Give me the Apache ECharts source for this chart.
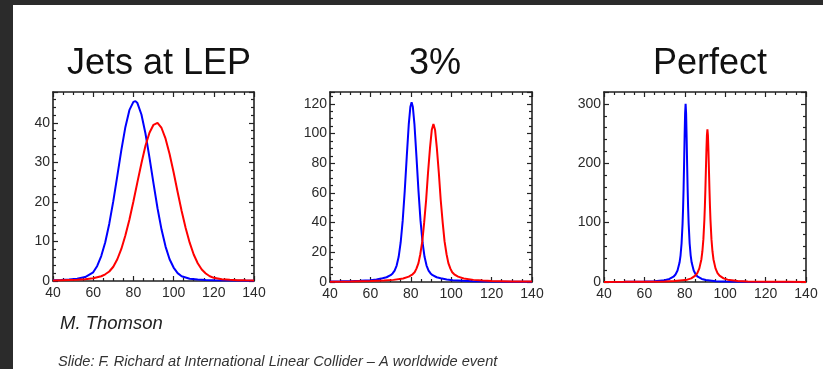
<!DOCTYPE html>
<html><head><meta charset="utf-8">
<script src="https://cdn.jsdelivr.net/npm/echarts@6/dist/echarts.min.js"></script>
<style>html,body{margin:0;padding:0;background:#fff}#c{width:823px;height:369px}</style>
</head><body><div id="c"></div>
<script>
// ---- data ----
const panelTitles = ['Jets at LEP', '3%', 'Perfect'];
const author = 'M. Thomson';
const slideCredit = 'Slide: F. Richard at International Linear Collider \u2013 A worldwide event';

const xMin = 40, xMax = 140, xInterval = 20;
const yMaxes = [47.8, 128, 320];
const yIntervals = [10, 20, 100];

// Panel 1: Jets at LEP
const p1BlueX = [40,44,48,52,56,60,62,64,66,68,70,72,74,76,78,80,81,82,84,86,88,90,92,94,96,98,100,102,104,108,112,116,120,130,140];
const p1BlueY = [0.2,0.25,0.35,0.55,1.0,2.2,3.8,6.3,9.8,14.5,20.2,26.6,33.1,38.9,43.2,45.3,45.5,45.0,42.1,37.3,31.2,24.7,18.4,13.0,8.7,5.5,3.4,2.0,1.2,0.55,0.35,0.25,0.2,0.12,0.08];
const p1RedX = [40,44,48,52,56,60,64,66,68,70,72,74,76,78,80,82,84,86,88,90,92,94,96,98,100,102,104,106,108,110,112,114,116,118,120,124,128,132,136,140];
const p1RedY = [0.15,0.2,0.25,0.3,0.45,0.7,1.2,1.7,2.4,3.6,5.5,8.1,11.5,15.5,20.1,25.0,29.8,34.2,37.5,39.5,40.0,38.7,36.0,32.1,27.5,22.5,17.7,13.4,9.7,6.7,4.5,2.9,1.9,1.2,0.8,0.45,0.3,0.22,0.18,0.15];

// Panel 2: 3%
const p2BlueX = [40,45,50,55,60,63,66,68,70,71,72,73,74,75,76,77,78,79,79.8,80.4,81,81.8,82.8,83.8,84.8,85.8,86.8,87.8,88.8,89.8,90.8,92.8,94.8,97.8,100.8,105.8,110.8,120,130,140];
const p2BlueY = [0.33,0.43,0.57,0.82,1.25,1.7,2.5,3.2,4.6,5.8,7.7,11.1,17.0,26.8,41.5,61.4,84.5,106.4,118.1,121,118.1,106.4,84.5,61.4,41.5,26.8,17.0,11.1,7.7,5.8,4.6,3.2,2.5,1.7,1.25,0.82,0.57,0.34,0.22,0.15];
const p2RedX = [40,50,60,66.7,71.4,76.2,79.0,80.9,81.9,82.8,83.8,84.7,85.7,86.6,87.6,88.5,89.5,90.4,91.2,92.0,92.9,93.9,94.8,95.8,96.7,97.7,98.6,99.6,100.5,101.5,103.4,106.2,111.0,115.7,120,130,140];
const p2RedY = [0.24,0.38,0.65,0.94,1.43,2.4,3.6,5.2,6.6,9.0,12.7,18.7,27.5,39.8,55.4,73.1,90.2,102.6,106.5,102.6,90.2,73.1,55.4,39.8,27.5,18.7,12.7,9.0,6.6,5.2,3.6,2.4,1.43,0.94,0.7,0.42,0.27];

// Panel 3: Perfect
const p3BlueX = [40,50,60,65,70,72.4,74.4,75.4,76.4,77.4,77.9,78.4,78.9,79.15,79.4,79.65,79.9,80.15,80.4,80.65,80.9,81.15,81.4,81.65,81.9,82.4,82.9,83.4,84.4,85.4,86.4,88.4,90.4,95.4,100.4,110.4,120,140];
const p3BlueY = [0.2,0.36,0.79,1.39,3.03,5.08,8.9,12.7,19.3,32.7,45.0,64.8,98.7,124.1,157.3,198.7,244.6,283.9,300,283.9,244.6,198.7,157.3,124.1,98.7,64.8,45.0,32.7,19.3,12.7,8.9,5.08,3.27,1.46,0.82,0.37,0.21,0.093];
const p3RedX = [40,50,60,70,75,81.2,83.2,85.2,86.2,87.2,88.2,88.7,89.2,89.7,89.95,90.2,90.45,90.7,90.95,91.2,91.45,91.7,91.95,92.2,92.45,92.7,93.2,93.7,94.2,95.2,96.2,97.2,99.2,101.2,106.2,111.2,121.2,131.2,140];
const p3RedY = [0.153,0.24,0.41,0.89,1.52,3.95,6.1,10.7,15.1,22.9,38.0,51.4,72.2,105.3,128.5,156.7,189.0,221.6,247.1,257,247.1,221.6,189.0,156.7,128.5,105.3,72.2,51.4,38.0,22.9,15.1,10.7,6.1,3.95,1.77,1.0,0.445,0.25,0.169];

// ---- build chart ----
const blueSeries = [[p1BlueX, p1BlueY], [p2BlueX, p2BlueY], [p3BlueX, p3BlueY]];
const redSeries = [[p1RedX, p1RedY], [p2RedX, p2RedY], [p3RedX, p3RedY]];
const yMinorSplits = [5, 4, 5];
const gridRects = [
  {left: 53, top: 92, width: 201, height: 189},
  {left: 330, top: 92, width: 202, height: 190},
  {left: 604, top: 92, width: 202, height: 190}
];
const titleCenters = [159, 435, 710];
const frameColor = '#222222';
const labelFont = 'Liberation Sans';

function pairs(xs, ys) { return xs.map((x, i) => [x, ys[i]]); }

const xAxes = [], yAxes = [], series = [], graphics = [];
graphics.push({type: 'rect', z: -10, silent: true, shape: {x: 13, y: 5, width: 820, height: 370}, style: {fill: '#ffffff'}});

for (let i = 0; i < 3; i++) {
  const lineStyle = {color: frameColor, width: 1.6};
  const tickStyle = {color: frameColor, width: 1.2};
  ['bottom', 'top'].forEach(pos => {
    xAxes.push({
      gridIndex: i, type: 'value', position: pos, min: xMin, max: xMax, interval: xInterval,
      axisLine: {show: true, onZero: false, lineStyle},
      axisTick: {show: true, inside: true, length: 5, lineStyle: tickStyle},
      minorTick: {show: true, splitNumber: 4, length: 3, lineStyle: tickStyle},
      splitLine: {show: false}, minorSplitLine: {show: false},
      axisLabel: {show: pos === 'bottom', color: '#2a2a2a', fontSize: 14, fontFamily: labelFont, margin: 5}
    });
  });
  ['left', 'right'].forEach(pos => {
    yAxes.push({
      gridIndex: i, type: 'value', position: pos, min: 0, max: yMaxes[i], interval: yIntervals[i],
      axisLine: {show: true, onZero: false, lineStyle},
      axisTick: {show: true, inside: true, length: 5, lineStyle: tickStyle},
      minorTick: {show: true, splitNumber: yMinorSplits[i], length: 3, lineStyle: tickStyle},
      splitLine: {show: false}, minorSplitLine: {show: false},
      axisLabel: {show: pos === 'left', showMaxLabel: false, color: '#2a2a2a', fontSize: 14, fontFamily: labelFont, margin: 3}
    });
  });
  series.push({
    type: 'line', xAxisIndex: 2 * i, yAxisIndex: 2 * i, data: pairs(blueSeries[i][0], blueSeries[i][1]),
    showSymbol: false, symbol: 'none', lineStyle: {color: '#0000ff', width: 2}, itemStyle: {color: '#0000ff'}, z: 3
  });
  series.push({
    type: 'line', xAxisIndex: 2 * i, yAxisIndex: 2 * i, data: pairs(redSeries[i][0], redSeries[i][1]),
    showSymbol: false, symbol: 'none', lineStyle: {color: '#ff0000', width: 2}, itemStyle: {color: '#ff0000'}, z: 4
  });
  graphics.push({type: 'text', x: titleCenters[i], y: 64, style: {text: panelTitles[i], font: '36px "Liberation Sans"', fill: '#111', align: 'center', verticalAlign: 'middle'}});
}
graphics.push({type: 'text', x: 60, y: 324, style: {text: author, font: 'italic 18.5px "Liberation Sans"', fill: '#222', align: 'left', verticalAlign: 'middle'}});
graphics.push({type: 'text', x: 58, y: 362, style: {text: slideCredit, font: 'italic 14.6px "Liberation Sans"', fill: '#333', align: 'left', verticalAlign: 'middle'}});

const chart = echarts.init(document.getElementById('c'), null, {renderer: 'canvas'});
chart.setOption({
  backgroundColor: '#2b2b2b',
  animation: false,
  grid: gridRects.map(g => Object.assign({containLabel: false}, g)),
  xAxis: xAxes,
  yAxis: yAxes,
  series: series,
  graphic: {elements: graphics}
});
</script></body></html>
